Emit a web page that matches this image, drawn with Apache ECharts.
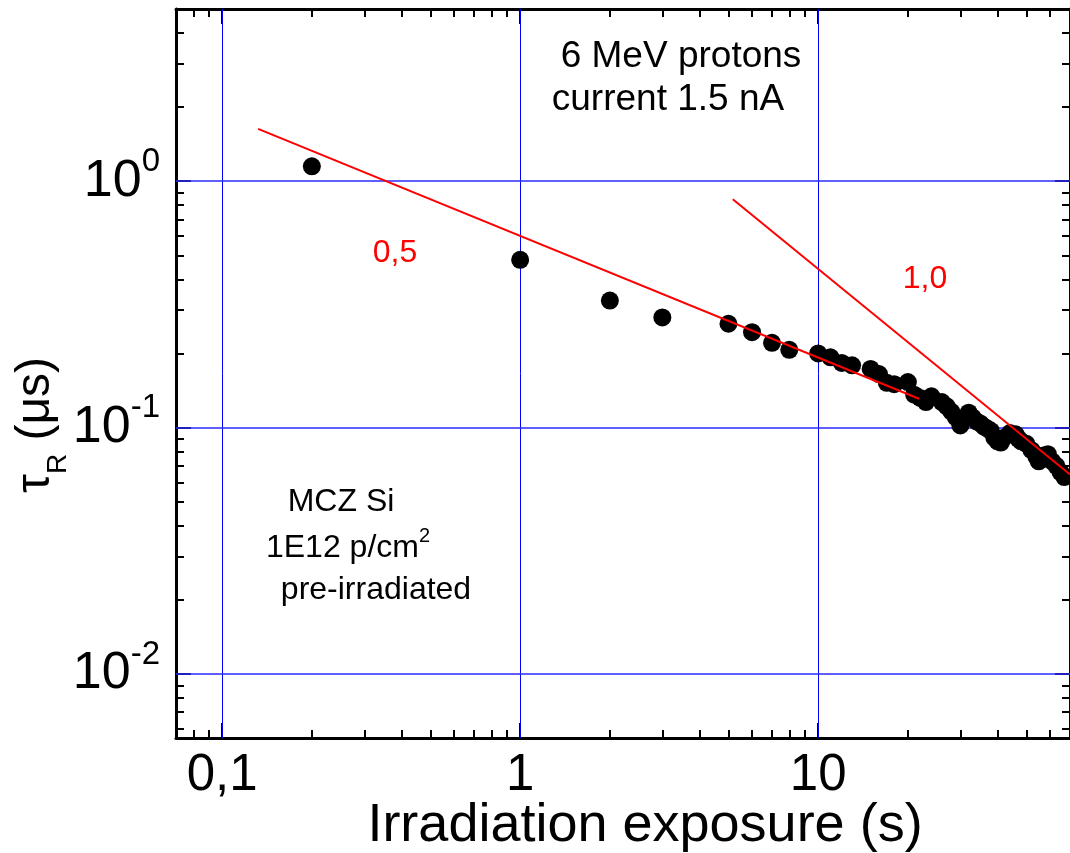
<!DOCTYPE html>
<html>
<head>
<meta charset="utf-8">
<script src="https://cdn.jsdelivr.net/npm/echarts@6.0.0/dist/echarts.min.js"></script>
<style>
  html, body { margin: 0; background: #fff; }
  #chart { width: 1070px; height: 853px; }
</style>
</head>
<body>
<div id="chart"></div>
<script>
// measured lifetime vs. irradiation exposure
const exposure = [0.2, 1, 2, 3, 5, 6, 7, 8, 10, 11, 12, 13, 15, 16, 17, 18, 20, 21, 22, 23, 24, 26, 27, 28, 29, 30,
  32, 33, 34, 35, 36, 37, 38, 39, 40, 41, 42, 44, 46, 47, 48, 50, 52, 54, 55, 57, 59, 61, 63, 65, 67];
const tau = [1.15, 0.48, 0.328, 0.28, 0.264, 0.244, 0.221, 0.207, 0.200, 0.193, 0.183, 0.179, 0.173, 0.165, 0.152, 0.150,
  0.153, 0.136, 0.132, 0.127, 0.134, 0.127, 0.122, 0.116, 0.110, 0.102,
  0.115, 0.110, 0.106, 0.104, 0.101, 0.099, 0.097, 0.091, 0.088, 0.087, 0.091, 0.095, 0.094, 0.090, 0.088, 0.086,
  0.081, 0.076, 0.073, 0.077, 0.078, 0.073, 0.070, 0.066, 0.063];

// power-law guide lines (slope 0.5 and 1.0)
const fitHalfX = [0.132, 21.8];
const fitHalfY = [1.63, 0.131];
const fitOneX = [5.17, 70];
const fitOneY = [0.845, 0.0645];

// ticks
const xMajor = [0.1, 1, 10];
const xTickLabels = ['0,1', '1', '10'];
const xMinor = [0.08, 0.09, 0.2, 0.3, 0.4, 0.5, 0.6, 0.7, 0.8, 0.9, 2, 3, 4, 5, 6, 7, 8, 9, 20, 30, 40, 50, 60];
const yMajor = [0.01, 0.1, 1];
const yExponents = ['-2', '-1', '0'];
const yMinor = [0.006, 0.007, 0.008, 0.009, 0.02, 0.03, 0.04, 0.05, 0.06, 0.07, 0.08, 0.09,
  0.2, 0.3, 0.4, 0.5, 0.6, 0.7, 0.8, 0.9, 2, 3, 4];

const FONT = "'Liberation Sans', Arial, sans-serif";
const chart = echarts.init(document.getElementById('chart'));

function makeAxis(kind, pos, ticks, len, main) {
  return {
    type: 'log',
    position: pos,
    min: kind === 'x' ? 0.07 : 0.0055,
    max: kind === 'x' ? 70 : 5,
    axisLine: { show: main, onZero: false, lineStyle: { color: '#000', width: 3 } },
    axisTick: { show: true, inside: true, length: len, customValues: ticks, lineStyle: { color: '#000', width: 2 } },
    axisLabel: { show: false },
    splitLine: { show: false },
    minorTick: { show: false },
    minorSplitLine: { show: false }
  };
}

const xBottom = makeAxis('x', 'bottom', xMajor, 15, true);
xBottom.axisLabel = {
  show: true,
  customValues: xMajor,
  margin: 12,
  fontSize: 51,
  fontFamily: FONT,
  color: '#000',
  formatter: function (v) {
    const i = xMajor.findIndex(t => Math.abs(t - v) / t < 1e-6);
    return i >= 0 ? xTickLabels[i] : '';
  }
};

const yLeft = makeAxis('y', 'left', yMajor, 15, true);
yLeft.axisLabel = {
  show: true,
  customValues: yMajor,
  margin: 16,
  color: '#000',
  formatter: function (v) {
    const i = yMajor.findIndex(t => Math.abs(t - v) / t < 1e-6);
    return i >= 0 ? '{b|10}{s|' + yExponents[i] + '}' : '';
  },
  rich: {
    b: { fontSize: 52, lineHeight: 72, fontFamily: FONT, color: '#000' },
    s: { fontSize: 33, lineHeight: 33, verticalAlign: 'top', fontFamily: FONT, color: '#000' }
  }
};

// blue decade grid lines
const gridLines = xMajor.map(v => ({ xAxis: v }))
  .concat(yMajor.map(v => ({ yAxis: v, lineStyle: { width: 1.5, color: '#2a2aff' } })));

const option = {
  animation: false,
  backgroundColor: '#fff',
  grid: { left: 176, top: 9, width: 900, height: 729 },
  xAxis: [
    xBottom,
    makeAxis('x', 'bottom', xMinor, 8, false),
    makeAxis('x', 'top', xMajor, 15, true),
    makeAxis('x', 'top', xMinor, 8, false)
  ],
  yAxis: [
    yLeft,
    makeAxis('y', 'left', yMinor, 8, false),
    makeAxis('y', 'right', yMajor, 15, true),
    makeAxis('y', 'right', yMinor, 8, false)
  ],
  series: [
    {
      type: 'scatter',
      symbol: 'circle',
      symbolSize: 18,
      z: 3,
      itemStyle: { color: '#000', opacity: 1 },
      data: exposure.map((x, i) => [x, tau[i]]),
      markLine: {
        silent: true,
        z: 1,
        symbol: 'none',
        label: { show: false },
        lineStyle: { color: '#0000ff', width: 1, type: 'solid' },
        data: gridLines
      }
    },
    {
      type: 'line',
      symbol: 'none',
      z: 4,
      lineStyle: { color: '#ff0000', width: 2 },
      data: fitHalfX.map((x, i) => [x, fitHalfY[i]])
    },
    {
      type: 'line',
      symbol: 'none',
      z: 4,
      lineStyle: { color: '#ff0000', width: 2 },
      data: fitOneX.map((x, i) => [x, fitOneY[i]])
    }
  ],
  graphic: [
    { type: 'text', x: 681, y: 57, style: { text: '6 MeV protons', fontSize: 37, fontFamily: FONT, fill: '#000', align: 'center', verticalAlign: 'middle' } },
    { type: 'text', x: 668, y: 100, style: { text: 'current 1.5 nA', fontSize: 37, fontFamily: FONT, fill: '#000', align: 'center', verticalAlign: 'middle' } },
    { type: 'text', x: 395, y: 253, style: { text: '0,5', fontSize: 32, fontFamily: FONT, fill: '#ff0000', align: 'center', verticalAlign: 'middle' } },
    { type: 'text', x: 925, y: 279, style: { text: '1,0', fontSize: 32, fontFamily: FONT, fill: '#ff0000', align: 'center', verticalAlign: 'middle' } },
    { type: 'text', x: 341, y: 502, style: { text: 'MCZ Si', fontSize: 32, fontFamily: FONT, fill: '#000', align: 'center', verticalAlign: 'middle' } },
    {
      type: 'text', x: 348, y: 548,
      style: {
        text: '{m|1E12 p/cm}{p|2}', align: 'center', verticalAlign: 'middle',
        rich: {
          m: { fontSize: 32, lineHeight: 44, fontFamily: FONT, fill: '#000' },
          p: { fontSize: 20, lineHeight: 20, verticalAlign: 'top', fontFamily: FONT, fill: '#000' }
        }
      }
    },
    { type: 'text', x: 376, y: 590, style: { text: 'pre-irradiated', fontSize: 32, fontFamily: FONT, fill: '#000', align: 'center', verticalAlign: 'middle' } },
    { type: 'text', x: 645, y: 826, style: { text: 'Irradiation exposure (s)', fontSize: 54, fontFamily: FONT, fill: '#000', align: 'center', verticalAlign: 'middle' } },
    {
      type: 'text', x: 36, y: 425, rotation: Math.PI / 2,
      style: {
        text: '{m|τ}{r|R}{m| (μs)}', align: 'center', verticalAlign: 'middle',
        rich: {
          m: { fontSize: 48, lineHeight: 72, fontFamily: FONT, fill: '#000' },
          r: { fontSize: 28, lineHeight: 28, verticalAlign: 'bottom', fontFamily: FONT, fill: '#000' }
        }
      }
    }
  ]
};
chart.setOption(option);
</script>
</body>
</html>
